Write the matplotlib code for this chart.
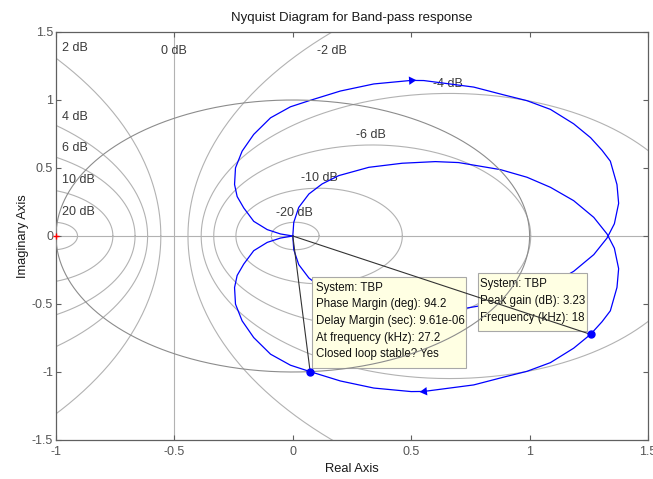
import numpy as np
import matplotlib
matplotlib.use("Agg")
import matplotlib.pyplot as plt
from matplotlib.patches import Rectangle

plt.rcParams['font.family'] = ['Liberation Sans', 'DejaVu Sans']

# Frequency response of TBP for positive frequencies (0 -> inf), complex plane
re_pos = [0.000, 0.004, 0.025, 0.068, 0.124, 0.194, 0.321, 0.462, 0.602, 0.700,
          0.877, 0.989, 1.088, 1.186, 1.271, 1.327, 1.358, 1.376, 1.369, 1.341,
          1.306, 1.2575, 1.186, 1.088, 0.989, 0.890, 0.764, 0.553, 0.500, 0.342,
          0.201, 0.0732, -0.010, -0.094, -0.165, -0.214, -0.242, -0.246, -0.235,
          -0.207, -0.165, -0.108, -0.052, 0.000]
im_pos = [0.000, 0.100, 0.210, 0.309, 0.383, 0.444, 0.505, 0.535, 0.547, 0.540,
          0.488, 0.432, 0.358, 0.260, 0.137, 0.015, -0.090, -0.240, -0.378, -0.550,
          -0.630, -0.7230, -0.825, -0.931, -0.995, -1.038, -1.095, -1.143, -1.144, -1.118,
          -1.066, -0.9973, -0.950, -0.869, -0.747, -0.624, -0.501, -0.379, -0.290,
          -0.206, -0.108, -0.047, -0.015, 0.000]

# Closed-loop magnitude contours (dB)
m_db = [-20, -10, -6, -4, -2, 0, 2, 4, 6, 10, 20]
m_labels = ['-20 dB', '-10 dB', '-6 dB', '-4 dB', '-2 dB', '0 dB',
            '2 dB', '4 dB', '6 dB', '10 dB', '20 dB']

# Characteristics reported by the data tips
system_name = 'TBP'
peak_gain_db = 3.23
peak_phase_deg = -29.9
peak_freq_khz = 18
phase_margin_deg = 94.2
delay_margin_s = 9.61e-06
pm_freq_khz = 27.2

x_ticks = [-1, -0.5, 0, 0.5, 1, 1.5]
y_ticks = [-1.5, -1, -0.5, 0, 0.5, 1, 1.5]

grid_col = '#b2b2b2'
label_col = '#3a3a3a'
tick_col = '#555555'

fig = plt.figure(figsize=(6.53, 4.79), dpi=100)
ax = fig.add_axes([56 / 653, 1 - 440 / 479, 592 / 653, 408 / 479])
ax.set_xlim(-1, 1.5)
ax.set_ylim(-1.5, 1.5)

# M-circles
theta = np.linspace(0, 2 * np.pi, 721)
for db in m_db:
    if db == 0:
        ax.axvline(-0.5, color=grid_col, lw=0.8, zorder=1)
        continue
    m = 10 ** (db / 20)
    c = m ** 2 / (1 - m ** 2)
    r = abs(m / (1 - m ** 2))
    ax.plot(c + r * np.cos(theta), r * np.sin(theta), color=grid_col, lw=0.8, zorder=1)
ax.axhline(0, color=grid_col, lw=0.8, zorder=1)

# contour labels
label_anchor = {
    '-20 dB': (0.007, 0.168, 'center'), '-10 dB': (0.111, 0.426, 'center'),
    '-6 dB': (0.332, 0.746, 'center'), '-4 dB': (0.657, 1.121, 'center'),
    '-2 dB': (0.167, 1.357, 'center'), '0 dB': (-0.502, 1.357, 'center'),
    '2 dB': (-0.975, 1.383, 'left'), '4 dB': (-0.975, 0.878, 'left'),
    '6 dB': (-0.975, 0.647, 'left'), '10 dB': (-0.975, 0.415, 'left'),
    '20 dB': (-0.975, 0.179, 'left'),
}
for lab in m_labels:
    x, y, ha = label_anchor[lab]
    ax.text(x, y, lab, ha=ha, va='center', fontsize=9, color=label_col, zorder=2)

# Nyquist curve: positive frequencies and mirrored negative frequencies
re_pos_a = np.array(re_pos)
im_pos_a = np.array(im_pos)
ax.plot(re_pos_a, im_pos_a, color='#0000ff', lw=0.9, zorder=3)
ax.plot(re_pos_a, -im_pos_a, color='#0000ff', lw=0.9, zorder=3)


def direction_marker(xs, ys, i, forward=True):
    p0 = ax.transData.transform((xs[i - 1], ys[i - 1]))
    p1 = ax.transData.transform((xs[i + 1], ys[i + 1]))
    d = p1 - p0 if forward else p0 - p1
    ang = np.degrees(np.arctan2(d[1], d[0]))
    ax.plot(xs[i], ys[i], marker=(3, 0, ang - 90), color='#0000ff',
            markersize=7, markeredgewidth=0, zorder=3)


i_arrow_pos = re_pos.index(0.553)
i_arrow_neg = re_pos.index(0.500)
direction_marker(re_pos_a, im_pos_a, i_arrow_pos, forward=True)
direction_marker(re_pos_a, -im_pos_a, i_arrow_neg, forward=False)

# critical point
ax.plot(-1, 0, marker='+', color='red', markersize=4, mew=1.0, zorder=6, clip_on=False)

# stability margin characteristics
pm_ang = np.radians(-180 + phase_margin_deg)
pm_x, pm_y = np.cos(pm_ang), np.sin(pm_ang)
pk_mag = 10 ** (peak_gain_db / 20)
pk_x = pk_mag * np.cos(np.radians(peak_phase_deg))
pk_y = pk_mag * np.sin(np.radians(peak_phase_deg))

# data tip boxes
tip_face = '#ffffe3'
tip_edge = '#a8a8a8'
ax.add_patch(Rectangle((0.083, -0.970), 0.650, 0.670, facecolor=tip_face,
                       edgecolor=tip_edge, lw=0.8, zorder=4))
ax.add_patch(Rectangle((0.780, -0.697), 0.464, 0.425, facecolor=tip_face,
                       edgecolor=tip_edge, lw=0.8, zorder=4))

pm_text = (f'System: {system_name}\n'
           f'Phase Margin (deg): {phase_margin_deg}\n'
           f'Delay Margin (sec): {delay_margin_s:.2e}\n'
           f'At frequency (kHz): {pm_freq_khz}\n'
           f'Closed loop stable? Yes')
pk_text = (f'System: {system_name}\n'
           f'Peak gain (dB): {peak_gain_db}\n'
           f'Frequency (kHz): {peak_freq_khz}')
ax.text(0.099, -0.336, pm_text, ha='left', va='top', fontsize=8.3,
        linespacing=1.52, color='#111111', zorder=5)
ax.text(0.789, -0.308, pk_text, ha='left', va='top', fontsize=8.3,
        linespacing=1.55, color='#111111', zorder=5)

# unit circle and radial lines to the characteristic points
ax.plot(np.cos(theta), np.sin(theta), color='#8c8c8c', lw=0.8, zorder=5)
ax.plot([0, pm_x], [0, pm_y], color='#333333', lw=0.8, zorder=5)
ax.plot([0, pk_x], [0, pk_y], color='#333333', lw=0.8, zorder=5)
ax.plot([pm_x, pk_x], [pm_y, pk_y], ls='none', marker='o', color='#0000ff',
        markersize=5, zorder=6)

# axes styling
ax.set_xticks(x_ticks)
ax.set_yticks(y_ticks)
ax.set_xticklabels([f'{t:g}' for t in x_ticks])
ax.set_yticklabels([f'{t:g}' for t in y_ticks])
ax.tick_params(direction='in', length=3.5, width=0.8, colors='#606060',
               labelcolor=tick_col, labelsize=9, top=True, right=True, pad=4)
ax.tick_params(axis='y', pad=2)
for s in ax.spines.values():
    s.set_color('#606060')
    s.set_linewidth(0.9)

ax.set_title('Nyquist Diagram for Band-pass response', fontsize=9.5,
             color='#1a1a1a', pad=8)
ax.set_xlabel('Real Axis', fontsize=9.3, color='#1a1a1a', labelpad=4)
ax.set_ylabel('Imaginary Axis', fontsize=9.3, color='#1a1a1a', labelpad=2)

fig.savefig('out.png', dpi=100)
